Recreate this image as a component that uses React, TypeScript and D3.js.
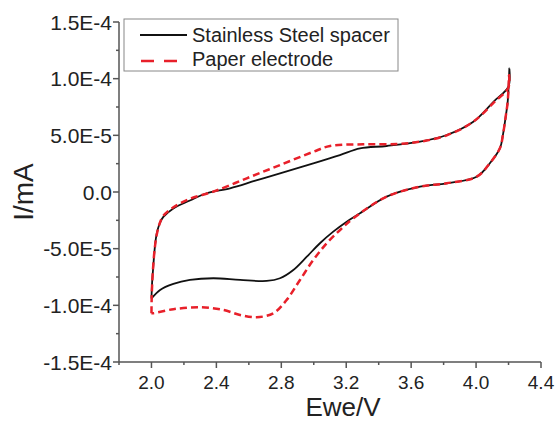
import * as d3 from 'd3';

// potential (V) vs current (units of 1e-5 mA)
const steelForward: [number, number][] = [
  [2.0, -9.4], [2.004, -8.0], [2.011, -6.6], [2.02, -5.0], [2.032, -3.7],
  [2.05, -2.8], [2.073, -2.2], [2.135, -1.45], [2.237, -0.75], [2.34, -0.11],
  [2.484, 0.33], [2.64, 1.0], [2.792, 1.65], [2.997, 2.53], [3.161, 3.26],
  [3.285, 3.85], [3.449, 4.06], [3.655, 4.44], [3.819, 5.03], [3.983, 6.2],
  [4.11, 8.0], [4.199, 9.3], [4.205, 10.9],
];
const steelReverse: [number, number][] = [
  [4.195, 8.0], [4.184, 6.8], [4.165, 5.0], [4.148, 3.9], [4.086, 2.56],
  [4.004, 1.35], [3.819, 0.77], [3.655, 0.47], [3.449, -0.41], [3.285, -1.88],
  [3.203, -2.62], [3.12, -3.5], [3.038, -4.52], [2.957, -5.71], [2.874, -6.88],
  [2.792, -7.61], [2.71, -7.85], [2.546, -7.76], [2.381, -7.61], [2.237, -7.76],
  [2.135, -8.11], [2.053, -8.64], [2.0, -9.4],
];
const paperForward: [number, number][] = [
  [2.0, -10.7], [2.002, -9.0], [2.009, -6.9], [2.02, -5.0], [2.032, -3.8],
  [2.05, -2.8], [2.073, -2.1], [2.135, -1.35], [2.237, -0.6], [2.381, 0.03],
  [2.587, 1.21], [2.792, 2.38], [2.997, 3.55], [3.1, 4.06], [3.305, 4.21],
  [3.511, 4.23], [3.655, 4.44], [3.819, 5.0], [3.983, 6.2], [4.11, 7.9],
  [4.199, 9.2], [4.203, 10.3],
];
const paperReverse: [number, number][] = [
  [4.195, 8.0], [4.184, 6.8], [4.165, 5.0], [4.148, 3.9], [4.086, 2.56],
  [4.004, 1.35], [3.819, 0.77], [3.655, 0.47], [3.449, -0.41], [3.244, -2.32],
  [3.162, -3.35], [3.08, -4.52], [2.997, -6.0], [2.915, -7.76], [2.833, -9.52],
  [2.751, -10.7], [2.648, -11.05], [2.546, -10.85], [2.443, -10.41], [2.299, -10.17],
  [2.135, -10.34], [2.011, -10.7], [2.0, -10.7],
];

const xTicks = [2.0, 2.4, 2.8, 3.2, 3.6, 4.0, 4.4];
const xMinorTicks = [1.8, 2.2, 2.6, 3.0, 3.4, 3.8, 4.2];
const yTicks = [-1.5e-4, -1.0e-4, -5e-5, 0, 5e-5, 1.0e-4, 1.5e-4];
const yTickLabels = ['-1.5E-4', '-1.0E-4', '-5.0E-5', '0.0', '5.0E-5', '1.0E-4', '1.5E-4'];
const yMinorTicks = [-1.25e-4, -7.5e-5, -2.5e-5, 2.5e-5, 7.5e-5, 1.25e-4];

const FONT = "'Liberation Sans', Arial, sans-serif";

export default function App() {
  const width = 556;
  const height = 422;

  const x = d3.scaleLinear().domain([1.8, 4.4]).range([119, 541]);
  const y = d3.scaleLinear().domain([-1.5e-4, 1.5e-4]).range([362, 22]);

  const line = d3
    .line<[number, number]>()
    .x((d) => x(d[0]))
    .y((d) => y(d[1] * 1e-5))
    .curve(d3.curveCatmullRom.alpha(0.5));

  const steel = [...steelForward, ...steelReverse];
  const paper = [...paperForward, ...paperReverse];

  const axisColor = '#555';

  return (
    <svg
      width={width}
      height={height}
      style={{ position: 'absolute', left: 0, top: 0, background: '#fff' }}
      fontFamily={FONT}
    >
      {/* curves */}
      <path d={line(steel) || ''} fill="none" stroke="#111" strokeWidth={1.8} />
      <path
        d={line(paper) || ''}
        fill="none"
        stroke="#e8202a"
        strokeWidth={2.5}
        strokeDasharray="7,4"
      />

      {/* y axis */}
      <line x1={119} x2={119} y1={y(-1.5e-4)} y2={y(1.5e-4)} stroke={axisColor} strokeWidth={1.5} />
      {yTicks.map((t, i) => (
        <g key={'y' + i}>
          <line x1={113} x2={119} y1={y(t)} y2={y(t)} stroke={axisColor} strokeWidth={1.5} />
          <text x={112} y={y(t)} dy="0.36em" textAnchor="end" fontSize={21} fill="#222">
            {yTickLabels[i]}
          </text>
        </g>
      ))}
      {yMinorTicks.map((t, i) => (
        <line key={'ym' + i} x1={116} x2={119} y1={y(t)} y2={y(t)} stroke={axisColor} strokeWidth={1.5} />
      ))}

      {/* x axis */}
      <line x1={119} x2={541} y1={362} y2={362} stroke={axisColor} strokeWidth={1.5} />
      {xTicks.map((t) => (
        <g key={'x' + t}>
          <line x1={x(t)} x2={x(t)} y1={362} y2={368} stroke={axisColor} strokeWidth={1.5} />
          <text x={x(t)} y={389} textAnchor="middle" fontSize={19} fill="#222">
            {t.toFixed(1)}
          </text>
        </g>
      ))}
      {xMinorTicks.map((t) => (
        <line key={'xm' + t} x1={x(t)} x2={x(t)} y1={362} y2={365} stroke={axisColor} strokeWidth={1.5} />
      ))}

      {/* axis titles */}
      <text x={343} y={416} textAnchor="middle" fontSize={26} fill="#222">
        Ewe/V
      </text>
      <text
        transform="translate(33,192) rotate(-90)"
        textAnchor="middle"
        fontSize={28}
        fill="#222"
      >
        I/mA
      </text>

      {/* legend */}
      <rect x={124} y={19} width={274} height={52} fill="#fff" stroke="#888" strokeWidth={1} />
      <line x1={140} x2={187} y1={35} y2={35} stroke="#111" strokeWidth={1.8} />
      <text x={192} y={42} fontSize={20} fill="#222">
        Stainless Steel spacer
      </text>
      <line x1={141} x2={180} y1={61} y2={61} stroke="#e8202a" strokeWidth={2.5} strokeDasharray="13,10" />
      <text x={192} y={66} fontSize={20} fill="#222">
        Paper electrode
      </text>
    </svg>
  );
}
